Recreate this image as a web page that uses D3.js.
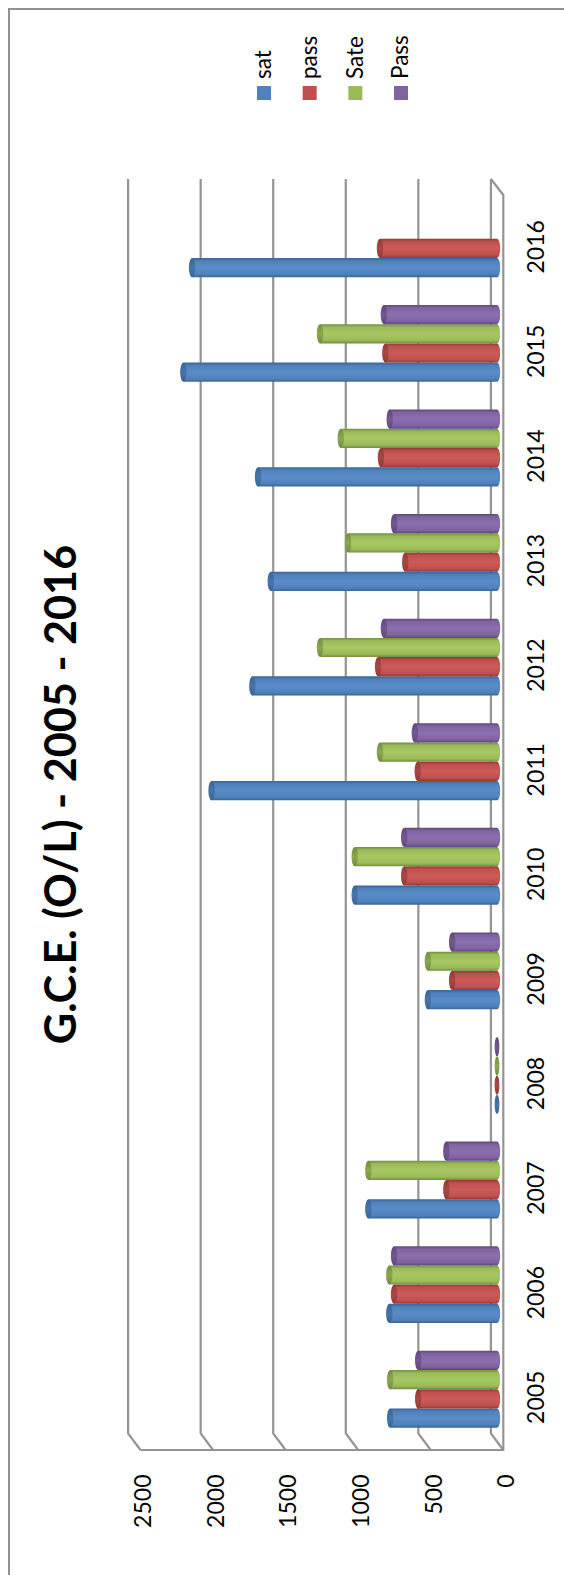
<!DOCTYPE html>
<html><head><meta charset="utf-8"><style>html,body{margin:0;padding:0;background:#fff}svg{display:block}text{font-family:Lato,"Open Sans",sans-serif;fill:#000}</style>
<script src="https://cdnjs.cloudflare.com/ajax/libs/d3/7.8.5/d3.min.js"></script></head><body>
<script>
const years=[2005,2006,2007,2008,2009,2010,2011,2012,2013,2014,2015,2016];
const seriesNames=["sat","pass","Sate","Pass"];
const sat =[736,742,886,0,476,980,1966,1685,1558,1646,2160,2100];
const pass=[543,709,349,0,309,639,546,819,632,799,769,806];
const sate=[736,742,886,0,476,980,806,1219,1026,1076,1219,null];
const passB=[543,709,349,0,309,639,566,779,709,739,779,null];
const tickValues=[0,500,1000,1500,2000,2500];
const title="G.C.E. (O/L) - 2005 - 2016";
const colors=["#4F81BD","#C0504D","#9BBB59","#8064A2"];
const lights=["#5A8CC8","#CC5C59","#A6C864","#8B6FAE"];
const darks=["#3A6494","#8F3A38","#728C40","#5E4878"];
const seriesValues=[sat,pass,sate,passB];

const W=564,H=1575;
const svg=d3.select("body").append("svg").attr("width",W).attr("height",H);
const frontX=d3.scaleLinear().domain([0,2500]).range([503.3,140.5]);
const depth={dx:-12.4,dy:-16.5};
const barX=d3.scaleLinear().domain([0,2500]).range([497,134]);
const frontY=d3.scaleBand().domain(years).range([1450,195]);
const barY=d3.scaleBand().domain(years).range([1441.5,186.5]).paddingInner(0.264).paddingOuter(0.132);
const inner=d3.scaleBand().domain(d3.range(4)).range([barY.bandwidth(),0]);

// frame
svg.append("path").attr("d","M9,1575V9H564").attr("fill","none").attr("stroke","#929292").attr("stroke-width",2);

// walls
const grid=svg.append("g").attr("fill","none").attr("stroke","#949494").attr("stroke-width",2.2);
grid.selectAll("path").data(tickValues).join("path")
 .attr("d",d=>{const x=frontX(d);return `M${x+depth.dx},179V1433.5L${x},1450`;});
grid.append("path").attr("d",`M${frontX(0)+depth.dx},179L${frontX(0)},195V1450H${frontX(2500)}`);

// gradients
const defs=svg.append("defs");
colors.forEach((c,i)=>{
 const g=defs.append("linearGradient").attr("id","g"+i).attr("x1",0).attr("x2",0).attr("y1",0).attr("y2",1);
 [[0,darks[i]],[0.16,c],[0.5,lights[i]],[0.84,c],[1,darks[i]]].forEach(s=>g.append("stop").attr("offset",s[0]).attr("stop-color",s[1]));
 const h=defs.append("linearGradient").attr("id","c"+i).attr("x1",0).attr("x2",0).attr("y1",0).attr("y2",1);
 [[0,darks[i]],[0.5,d3.interpolateRgb(darks[i],c)(0.6)],[1,darks[i]]].forEach(s=>h.append("stop").attr("offset",s[0]).attr("stop-color",s[1]));
});

// bars
const rx=3.2;
const groups=svg.selectAll("g.yr").data(years).join("g").attr("class","yr").attr("transform",d=>`translate(0,${barY(d)})`);
seriesValues.forEach((vals,i)=>{
 groups.each(function(y,k){
  const v=vals[k]; if(v===null) return;
  const g=d3.select(this), top=inner(i), h=inner.bandwidth(), x=barX(v), x0=barX(0), ry=h/2, cy=top+ry;
  if(v>0){
   g.append("path").attr("d",`M${x},${top}H${x0}A${rx},${ry} 0 0 1 ${x0},${top+h}H${x}Z`).attr("fill",`url(#g${i})`);
  }
  g.append("ellipse").attr("cx",x).attr("cy",cy).attr("rx",v>0?rx:2.4).attr("ry",ry).attr("fill",`url(#c${i})`);
 });
});

// axis labels
const tl=svg.append("g").attr("font-size",23);
tl.selectAll("text.v").data(tickValues).join("text").attr("class","v")
 .attr("text-anchor","end").attr("dy","0.36em")
 .attr("transform",d=>`translate(${frontX(d)+2.5},1474.5) rotate(-90)`).text(d=>d);
tl.selectAll("text.c").data(years).join("text").attr("class","c")
 .attr("text-anchor","middle").attr("dy","0.36em")
 .attr("transform",d=>`translate(536,${frontY(d)+frontY.bandwidth()/2-0.5}) rotate(-90)`).text(d=>d);

// title
svg.append("text").attr("transform","translate(60,794.5) rotate(-90)").attr("text-anchor","middle").attr("dy","0.36em")
 .attr("font-size",43.2).attr("font-weight",700).text(title);

// legend
const legendX=d3.scalePoint().domain(seriesNames).range([264,401]);
const lg=svg.selectAll("g.lg").data(seriesNames).join("g").attr("class","lg").attr("transform",d=>`translate(${legendX(d)},0)`);
lg.append("rect").attr("x",-7).attr("y",86).attr("width",14).attr("height",14).attr("fill",(d,i)=>colors[i]);
lg.append("text").attr("transform","translate(0,79) rotate(-90)").attr("dy","0.33em").attr("font-size",22.5).text(d=>d);
</script></body></html>
